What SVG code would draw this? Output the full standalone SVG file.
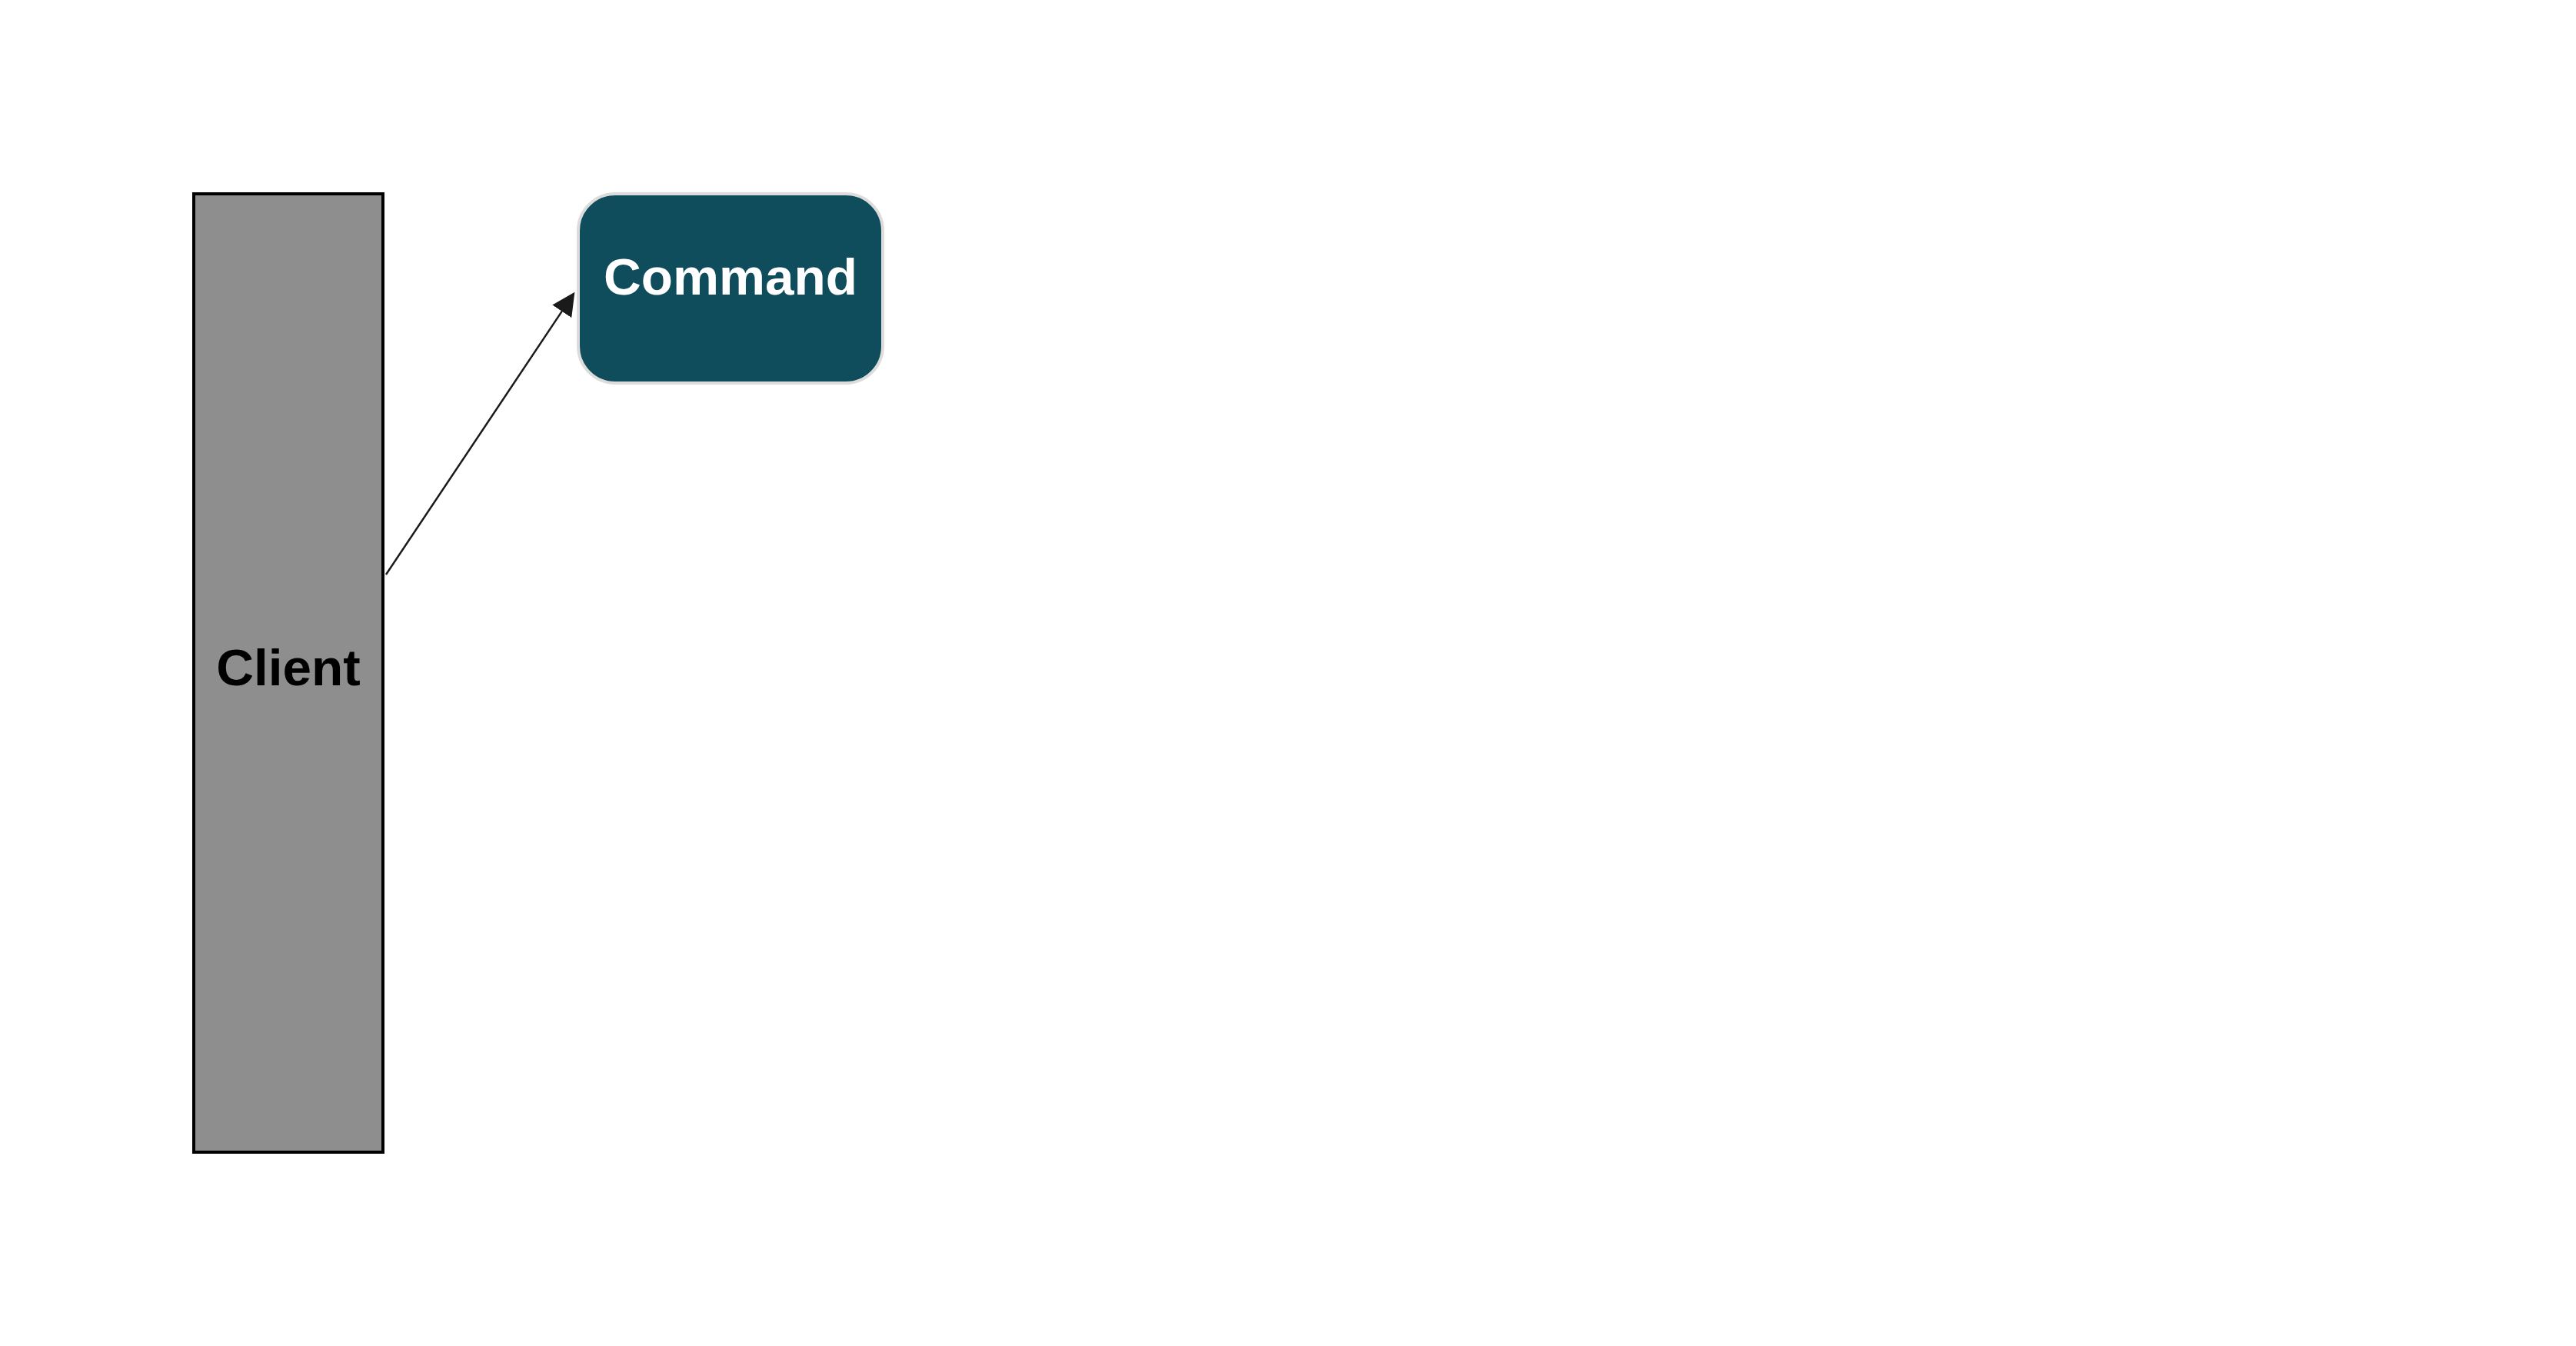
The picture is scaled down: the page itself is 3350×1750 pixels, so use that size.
<svg xmlns="http://www.w3.org/2000/svg" width="3350" height="1750" viewBox="0 0 3350 1750">
  <style>
    .label { font-family: "Liberation Sans", Arial, sans-serif; font-weight: bold; font-size: 67.5px; text-anchor: middle; }
    .conn { stroke: #1a1a1a; stroke-width: 2.5; fill: none; }
  </style>
  <defs>
    <marker id="arrowhead" markerUnits="userSpaceOnUse" markerWidth="30" markerHeight="30" viewBox="0 0 30 30" refX="1" refY="15" orient="auto">
      <path d="M0,0 L30,15 L0,30 z" fill="#1a1a1a"/>
    </marker>
  </defs>
  <rect width="3350" height="1750" fill="#ffffff"/>
  <g id="client">
    <rect x="252" y="252" width="246" height="1246" fill="#8e8e8e" stroke="#000000" stroke-width="4"/>
    <text class="label" x="375" y="891" fill="#000000">Client</text>
  </g>
  <g id="command">
    <rect x="752" y="252" width="396" height="246" rx="48" ry="48" fill="#0f4c5c" stroke="#dcdcdc" stroke-width="4"/>
    <text class="label" x="950" y="383" fill="#ffffff">Command</text>
  </g>
  <g id="connectors">
    <line class="conn" x1="502" y1="747" x2="731.3" y2="403.9" marker-end="url(#arrowhead)"/>
  </g>
</svg>
